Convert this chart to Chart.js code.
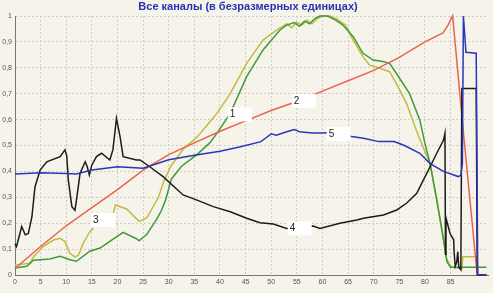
<!DOCTYPE html>
<html>
<head>
<meta charset="utf-8">
<script src="https://cdn.jsdelivr.net/npm/chart.js@4/dist/chart.umd.min.js"></script>
<style>
html,body{margin:0;padding:0;background:#f5f3ea;}
#wrap{width:493px;height:293px;position:relative;}
</style>
</head>
<body>
<div id="wrap"><canvas id="c" width="493" height="293"></canvas></div>
<script>
const titleText = "Все каналы (в безразмерных единицах)";

// Channel 1 (green)
const ch1X = [0,2.3,3.6,6.8,8.8,10.7,12,14.6,16.6,18.5,21.1,23.7,24.2,25.7,27.6,28.6,29.4,30.5,32.5,35.5,38,39.4,42,45.2,48.4,51.7,53,54.5,55.5,56.5,57.5,58.5,59.5,61,62.5,64,66,67.9,69.9,71.8,73.1,74.4,77,79,80,81,82.3,83.6,84.3,85,88,92];
const ch1Y = [0.027,0.034,0.057,0.062,0.072,0.059,0.053,0.092,0.104,0.13,0.165,0.14,0.132,0.156,0.214,0.25,0.29,0.37,0.42,0.465,0.51,0.547,0.624,0.766,0.869,0.946,0.965,0.975,0.96,0.98,0.97,0.99,1.0,1.0,0.985,0.965,0.92,0.856,0.83,0.824,0.817,0.779,0.70,0.598,0.508,0.43,0.29,0.14,0.05,0.03,0.03,0.03];

// Channel 2 (red)
const ch2X = [0,5,10,15,20,25,30,35,40,45,50,55,60,65,70,75,80,83.5,84.5,85.4,87.5,90.1,90.3,92];
const ch2Y = [0.025,0.11,0.19,0.26,0.33,0.405,0.465,0.51,0.555,0.595,0.635,0.67,0.71,0.75,0.79,0.84,0.90,0.935,0.965,1.0,0.55,0.02,0.0,0.0];

// Channel 3 (olive)
const ch3X = [0,2.9,3.6,5.5,7.5,8.8,9.75,10.7,11.7,12.4,13.3,14.6,15.3,17,19.2,19.6,21.8,24.2,25.7,28,29,30.4,33,35.4,36.7,39.4,42,45.2,48.4,51.7,52,53,54,55,56,57,58,59,60,61.4,62.7,64.5,66,67.9,69.2,71.2,73.1,74.4,76.4,78.3,79.6,81,82.3,83.6,84.2,85,87.2,87.4,90.1,90.3,92];
const ch3Y = [0.039,0.045,0.07,0.11,0.135,0.142,0.129,0.084,0.07,0.077,0.122,0.167,0.18,null,0.24,0.27,0.255,0.207,0.22,0.30,0.36,0.42,0.49,0.53,0.56,0.624,0.70,0.817,0.907,0.955,0.955,0.97,0.955,0.975,0.965,0.985,0.97,0.99,1.0,1.0,0.99,0.965,0.907,0.843,0.81,0.798,0.785,0.74,0.663,0.56,0.495,0.43,0.29,0.135,0.064,0.032,0.025,0.07,0.07,0.0,0.0];

// Channel 4 (black)
const ch4X = [0,0.3,1.3,2,2.6,3.3,3.9,4.9,6.2,8.8,9.75,10.1,10.4,11.1,11.7,12,12.7,13.7,14.1,14.5,15,15.9,16.9,18.5,19.1,19.8,20.5,21.1,23.7,24.4,26.3,28.9,32.8,35.4,38.7,42,45.2,47.8,50.4,53,58.2,59.5,63.4,66.7,68,71.9,74.5,76.4,78.4,79.7,81,82.3,83.6,83.9,84.0,84.1,84.9,85.6,85.7,85.9,86.2,86.4,86.6,87.0,87.2,88,90,90.2,92];
const ch4Y = [0.12,0.11,0.187,0.155,0.16,0.225,0.34,0.405,0.437,0.457,0.483,0.46,0.367,0.264,0.25,0.29,0.393,0.437,0.418,0.386,0.425,0.457,0.47,0.444,0.483,0.605,0.534,0.457,0.444,0.444,0.418,0.38,0.309,0.29,0.264,0.244,0.219,0.202,0.197,0.18,0.189,0.18,0.2,0.212,0.219,0.232,0.251,0.277,0.315,0.367,0.418,0.47,0.52,0.547,0.08,0.22,0.16,0.136,0.085,0.034,0.05,0.09,0.03,0.02,0.72,0.72,0.72,0.0,0.0];

// Channel 5 (blue)
const ch5X = [0,5,10,12,15,20,25,30,35,40,44,48,49,50,51,53,54.5,55.5,57,58,60,62,65,68,71,74,76,79,81,83.6,86.5,87,87.3,87.5,88,90,90.3,92];
const ch5Y = [0.39,0.395,0.392,0.39,0.405,0.418,0.412,0.445,0.462,0.478,0.495,0.515,0.53,0.545,0.54,0.553,0.562,0.553,0.55,0.548,0.548,0.55,0.537,0.528,0.515,0.515,0.50,0.47,0.43,0.40,0.38,0.385,0.43,1.0,0.86,0.856,0.0,0.0];

// Curve labels: [text, x, y]
const curveLabels = [["1",42.3,0.62],["2",54.8,0.672],["3",15.6,0.212],["4",54,0.18],["5",61.6,0.545]];

const xTickStep = 5;
const yTickStep = 0.1;

function pts(xs, ys){ return xs.map((x,i)=>({x:x, y:ys[i]})); }

const titlePlugin = {
  id:'titlePlugin',
  beforeDraw(chart){
    const ctx = chart.ctx;
    ctx.save();
    ctx.fillStyle = '#f5f3ea';
    ctx.fillRect(0,0,chart.width,chart.height);
    ctx.font = 'bold 11px "Liberation Sans", Arial, sans-serif';
    ctx.fillStyle = '#2633b0';
    ctx.textAlign = 'center';
    ctx.textBaseline = 'middle';
    ctx.fillText(titleText, 248, 7);
    ctx.restore();
  }
};

const labelPlugin = {
  id:'labelPlugin',
  afterDatasetsDraw(chart){
    const ctx = chart.ctx, xs = chart.scales.x, ys = chart.scales.y;
    ctx.save();
    ctx.font = '10px "Liberation Sans", Arial, sans-serif';
    ctx.textBaseline = 'middle';
    ctx.textAlign = 'left';
    curveLabels.forEach(l=>{
      const px = xs.getPixelForValue(l[1]);
      const py = ys.getPixelForValue(l[2]);
      ctx.fillStyle = '#ffffff';
      ctx.fillRect(px-4, py-7, 24, 14);
      ctx.fillStyle = '#222';
      ctx.fillText(l[0], px-2, py);
    });
    ctx.restore();
  }
};

const ds = (label, xs, ys, color, order) => ({
  label, data: pts(xs, ys), borderColor: color, borderWidth: 1.5,
  pointRadius: 0, tension: 0, fill: false, spanGaps: false, order, clip: 4
});

new Chart(document.getElementById('c'), {
  type: 'line',
  data: {
    datasets: [
      ds('5', ch5X, ch5Y, '#2a36b8', 1),
      ds('4', ch4X, ch4Y, '#1c1c1c', 2),
      ds('2', ch2X, ch2Y, '#e8644f', 3),
      ds('1', ch1X, ch1Y, '#3f9a3a', 4),
      ds('3', ch3X, ch3Y, '#c0bc42', 5)
    ]
  },
  options: {
    responsive: false,
    animation: false,
    layout: { padding: { left: 0, right: 5, top: 16, bottom: 0 } },
    plugins: { legend: { display: false }, tooltip: { enabled: false }, title: { display: false } },
    scales: {
      x: {
        type: 'linear', min: 0, max: 92.3,
        afterFit(s){ s.height = 18; },
        afterBuildTicks(s){ s.ticks = s.ticks.filter(t => Math.abs(t.value/xTickStep - Math.round(t.value/xTickStep)) < 1e-6); },
        ticks: { stepSize: xTickStep, color: '#555', font: { size: 7, family: '"Liberation Sans", Arial, sans-serif' }, padding: 3, maxRotation: 0, autoSkip: false },
        grid: { color: '#cfcdc6', drawTicks: false, lineWidth: 1 },
        border: { display: true, color: '#777', width: 1, dash: [2,2] }
      },
      y: {
        type: 'linear', min: 0, max: 1,
        afterFit(s){ s.width = 15; },
        ticks: { stepSize: yTickStep, color: '#555', font: { size: 7, family: '"Liberation Sans", Arial, sans-serif' }, padding: 3,
          callback: v => (Math.round(v*10)/10).toString().replace('.', ',') },
        grid: { color: '#cfcdc6', drawTicks: false, lineWidth: 1 },
        border: { display: true, color: '#777', width: 1, dash: [2,2] }
      }
    }
  },
  plugins: [titlePlugin, labelPlugin]
});
</script>
</body>
</html>
